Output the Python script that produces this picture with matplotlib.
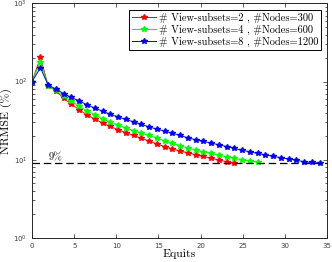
import matplotlib
matplotlib.use('Agg')
import matplotlib.pyplot as plt
from matplotlib.ticker import LogLocator, NullFormatter

# ================== data ==================
equits = [0, 1.0, 1.92, 2.84, 3.76, 4.68, 5.6, 6.52, 7.44, 8.36, 9.28, 10.2,
          11.12, 12.04, 12.96, 13.88, 14.8, 15.72, 16.64, 17.56, 18.48, 19.4,
          20.32, 21.24, 22.16, 23.08, 24.0, 24.92, 25.84, 26.76, 27.68, 28.6,
          29.52, 30.44, 31.36, 32.28, 33.2, 34.12]

nrmse_2 = [100, 204, 88, 76, 61, 51.4, 43.5, 37.5, 33, 29.5, 26.6, 24.2,
           22.2, 20.4, 18.8, 17.3, 15.9, 14.7, 13.7, 12.9, 12.2, 11.6,
           11.0, 10.4, 9.9, 9.4, 9.0]

nrmse_4 = [100, 179, 89, 77, 65, 56, 48.4, 42.2, 37.5, 33.5, 30.2, 27.6,
           25.4, 23.6, 21.9, 20.4, 18.9, 17.4, 16.2, 15.1, 14.1, 13.3,
           12.6, 12.0, 11.4, 10.9, 10.4, 10.0, 9.6, 9.3]

nrmse_8 = [100, 150, 90, 80, 70, 62.5, 56.6, 50.5, 45.6, 41.8, 38.0, 35.3,
           32.7, 30.5, 28.2, 26.3, 24.6, 23.2, 21.8, 20.4, 19.0, 18.0,
           17.1, 16.3, 15.5, 14.7, 13.9, 13.2, 12.6, 12.0, 11.5, 11.0,
           10.6, 10.2, 9.8, 9.4, 9.2, 9.0]

labels = ['# View-subsets=2 , #Nodes=300',
          '# View-subsets=4 , #Nodes=600',
          '# View-subsets=8 , #Nodes=1200']
colors = ['#ff0000', '#00ff00', '#0000ff']
threshold = 9

serif = ['cmr10', 'DejaVu Serif']

# ================== plot ==================
fig = plt.figure(figsize=(3.32, 2.62), dpi=100)
ax = fig.add_axes([0.0964, 0.0927, 0.889, 0.894])

for y, lab, c in zip([nrmse_2, nrmse_4, nrmse_8], labels, colors):
    ax.plot(equits[:len(y)], y, color=c, marker='*', markersize=4.4,
            linewidth=0.7, label=lab)

ax.axhline(threshold, color='black', linestyle=(0, (6, 3)), linewidth=0.9)
ax.text(2.0, threshold * 1.04, '9%', fontsize=7.5, family=serif,
        va='bottom', ha='left')

ax.set_yscale('log')
ax.set_xlim(0, 35)
ax.set_ylim(1, 1000)
ax.set_xticks([0, 5, 10, 15, 20, 25, 30, 35])
ax.yaxis.set_major_locator(LogLocator(base=10, numticks=5))
ax.yaxis.set_minor_locator(LogLocator(base=10, subs=range(2, 10), numticks=20))
ax.yaxis.set_minor_formatter(NullFormatter())

ax.tick_params(which='both', direction='in', top=True, right=True,
               labelsize=5, colors='#404040', width=0.6)
ax.tick_params(which='major', length=3)
ax.tick_params(which='minor', length=1.8)
for s in ax.spines.values():
    s.set_linewidth(0.7)
    s.set_color('#262626')

ax.set_xlabel('Equits', fontsize=8.5, family=serif, labelpad=0)
ax.set_ylabel('NRMSE (%)', fontsize=8.5, family=serif, labelpad=1)

leg = ax.legend(loc='upper right', prop={'family': serif, 'size': 7.5},
                fancybox=False, edgecolor='black', framealpha=1,
                borderpad=0.25, labelspacing=0.2, handlelength=2.3,
                handletextpad=0.3, borderaxespad=0.6)
leg.get_frame().set_linewidth(0.7)

fig.savefig('out.png', dpi=100)
